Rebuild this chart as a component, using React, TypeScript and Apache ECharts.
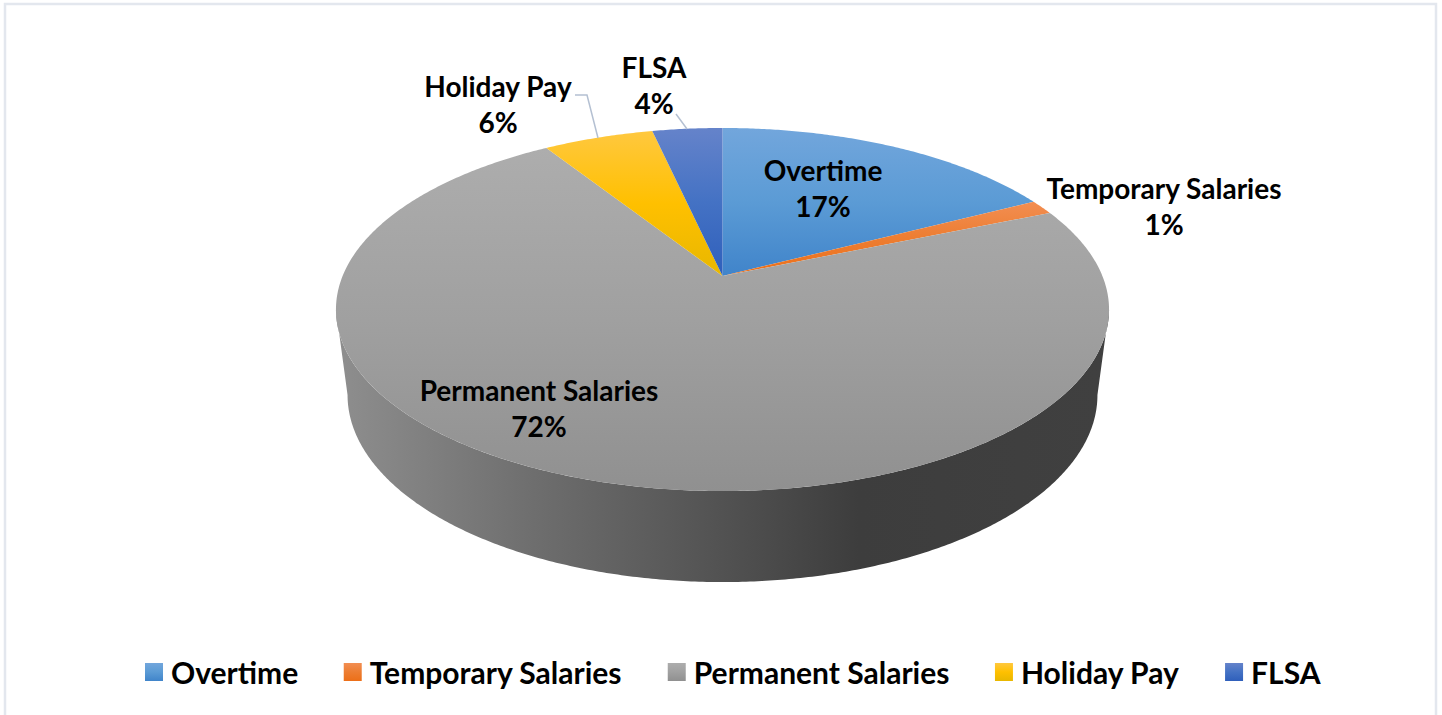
import React, { useEffect, useRef } from "react";
import * as echarts from "echarts";

const categories = ["Overtime", "Temporary Salaries", "Permanent Salaries", "Holiday Pay", "FLSA"];
const shares = [17.4, 1.3, 72.3, 5.5, 3.5];
const topColors = ["#72a6dc", "#f28e52", "#adadad", "#ffc83f", "#6583ca"];
const midColors = ["#5b9bd5", "#ed7d31", "#a0a0a0", "#ffc000", "#4472c4"];
const lowColors = ["#4084ca", "#ec6f18", "#909090", "#e8b700", "#2f5fbb"];

// Perspective disc: projects a circle angle on to the tilted top and bottom rims.
const TILT = -0.1846;
const TOP_RIM = { cx: 722.5, d: 379.9, a: 124.4, b: 276 };
const LOW_RIM = { cx: 722.5, d: 368.5, a: 114.1, b: 360.5 };
const project = (rim: typeof TOP_RIM, deg: number) => {
  const t = (deg * Math.PI) / 180;
  const x = Math.sin(t);
  const y = -Math.cos(t);
  const w = TILT * y + 1;
  return [rim.cx + (rim.d * x) / w, (rim.a * y + rim.b) / w];
};
const WALL_FROM = 100.6;
const WALL_TO = 259.4;

const FONT = "Lato";
const LABEL_SIZE = 28;
const labelAnchors = [
  [823, 188],
  [1164, 206],
  [539, 408],
  [498, 104],
  [654, 85],
];
const leaderLines: (number[][] | null)[] = [
  null,
  null,
  null,
  [[575, 95], [587, 95], [598, 138]],
  [[676, 114], [687, 129]],
];

const vertical = (i: number) => ({
  type: "linear",
  x: 0,
  y: 0,
  x2: 0,
  y2: 1,
  colorStops: [
    { offset: 0, color: topColors[i] },
    { offset: 0.5, color: midColors[i] },
    { offset: 1, color: lowColors[i] },
  ],
});

const wallFill = {
  type: "linear",
  global: true,
  x: 345,
  y: 0,
  x2: 1100,
  y2: 0,
  colorStops: [
    { offset: 0, color: "#8d8d8d" },
    { offset: 0.25, color: "#6e6e6e" },
    { offset: 0.5, color: "#525252" },
    { offset: 0.68, color: "#3d3d3d" },
    { offset: 1, color: "#404040" },
  ],
};

const range = (from: number, to: number) => {
  const out: number[] = [];
  const n = Math.max(2, Math.ceil((to - from) * 2));
  for (let k = 0; k <= n; k++) out.push(from + ((to - from) * k) / n);
  return out;
};

const total = shares.reduce((s, v) => s + v, 0);

function buildOption() {
  let running = 0;
  const series = categories.map((name, i) => {
    const start = (running / total) * 360;
    running += shares[i];
    const end = (running / total) * 360;
    return {
      type: "custom",
      name,
      coordinateSystem: "none",
      silent: true,
      itemStyle: { color: vertical(i) },
      data: [[start, end, shares[i]]],
      renderItem: (_: any, api: any) => {
        const a0 = api.value(0);
        const a1 = api.value(1);
        const children: any[] = [];
        const w0 = Math.max(a0, WALL_FROM);
        const w1 = Math.min(a1, WALL_TO);
        if (w1 > w0) {
          const upper = range(w0, w1).map((d) => project(TOP_RIM, d));
          const lower = range(w0, w1).map((d) => project(LOW_RIM, d)).reverse();
          children.push({
            type: "polygon",
            shape: { points: [...upper, ...lower] },
            style: { fill: wallFill },
          });
        }
        const rim = range(a0, a1).map((d) => project(TOP_RIM, d));
        children.push({
          type: "polygon",
          shape: { points: [[TOP_RIM.cx, TOP_RIM.b], ...rim] },
          style: { fill: vertical(i) },
        });
        const line = leaderLines[i];
        if (line) {
          children.push({
            type: "polyline",
            shape: { points: line },
            style: { stroke: "#b4c0d2", lineWidth: 1.5, fill: "none" },
          });
        }
        children.push({
          type: "text",
          style: {
            text: `${name}\n${Math.round(api.value(2))}%`,
            x: labelAnchors[i][0],
            y: labelAnchors[i][1],
            align: "center",
            verticalAlign: "middle",
            fontFamily: FONT,
            fontWeight: 700,
            fontSize: LABEL_SIZE,
            lineHeight: 36,
            fill: "#000000",
          },
        });
        return { type: "group", children };
      },
    };
  });

  return {
    animation: false,
    backgroundColor: "#ffffff",
    graphic: [
      {
        type: "rect",
        silent: true,
        z: -10,
        shape: { x: 5, y: 4, width: 1431, height: 730 },
        style: { fill: "#ffffff", stroke: "#e3e7ee", lineWidth: 2.5 },
      },
    ],
    legend: {
      left: 145,
      top: 657,
      padding: 0,
      icon: "rect",
      itemWidth: 18,
      itemHeight: 18,
      itemGap: 45.5,
      selectedMode: false,
      data: categories.map((name, i) => ({ name, itemStyle: { color: vertical(i) } })),
      textStyle: {
        fontFamily: FONT,
        fontWeight: 700,
        fontSize: 30,
        color: "#000000",
        padding: [0, 0, 0, 3],
      },
    },
    series,
  };
}

export default function App() {
  const ref = useRef<HTMLDivElement>(null);
  useEffect(() => {
    document.body.style.margin = "0";
    document.body.style.overflow = "hidden";
    const chart = echarts.init(ref.current!, null, { renderer: "svg" });
    chart.setOption(buildOption() as any);
    return () => chart.dispose();
  }, []);
  return <div ref={ref} style={{ width: 1442, height: 715 }} />;
}
